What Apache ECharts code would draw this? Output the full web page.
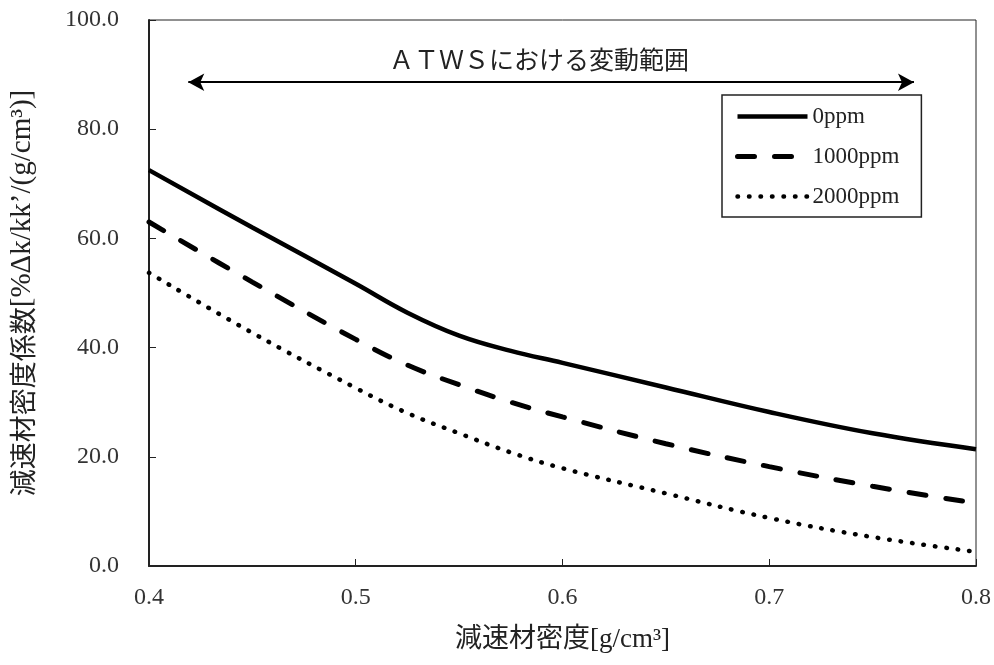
<!DOCTYPE html>
<html>
<head>
<meta charset="utf-8">
<script src="https://cdn.jsdelivr.net/npm/echarts@6/dist/echarts.min.js"></script>
<style>
  html, body { margin: 0; padding: 0; background: #fff; }
  #chart { width: 994px; height: 665px; }
</style>
</head>
<body>
<div id="chart"></div>
<script>
// Moderator density (g/cm3) sample points
const density = [0.40, 0.45, 0.50, 0.525, 0.55, 0.575, 0.60, 0.65, 0.70, 0.75, 0.80];

// Moderator density coefficient [%Δk/kk'/(g/cm3)] for each boron concentration
const coef0ppm    = [72.5, 62.0, 51.7, 46.4, 42.2, 39.4, 37.2, 32.7, 28.2, 24.3, 21.4];
const coef1000ppm = [63.0, 52.0, 41.5, 36.8, 33.2, 30.0, 27.3, 22.4, 18.2, 14.6, 11.5];
const coef2000ppm = [53.7, 42.7, 32.6, 28.0, 24.3, 20.8, 17.9, 13.3,  8.8,  5.3,  2.6];

const seriesNames = ['0ppm', '1000ppm', '2000ppm'];

// Range of the ATWS band (density) and the height of its arrow
const atwsRange = [0.419, 0.770];
const atwsArrowY = 88.6;

const serif = '"Liberation Serif", "DejaVu Serif", serif';
const cjk = '"Noto Sans CJK JP", sans-serif';
const mixed = '"Liberation Serif", "Noto Sans CJK JP", serif';

const pairs = (xs, ys) => xs.map((x, i) => [x, ys[i]]);

// Line styles shared by each curve and its legend sample
const styles = [
  { color: '#000', width: 4.5, type: 'solid' },
  { color: '#000', width: 5, type: [17, 20], cap: 'round' },
  { color: '#000', width: 4.5, type: [0.5, 11], cap: 'round' }
];

const chart = echarts.init(document.getElementById('chart'), null, { renderer: 'canvas' });

chart.setOption({
  animation: false,
  backgroundColor: '#ffffff',
  title: {
    text: 'ＡＴＷＳにおける変動範囲',
    left: 384,
    top: 42,
    textStyle: { fontFamily: cjk, fontWeight: 'normal', fontSize: 25, color: '#222' }
  },
  grid: {
    left: 148, right: 17, top: 20, bottom: 99,
    show: true, borderColor: '#222', borderWidth: 1, backgroundColor: 'transparent'
  },
  legend: {
    orient: 'vertical',
    left: 722, top: 95,
    padding: [10, 22, 9, 13],
    itemWidth: 70, itemHeight: 20, itemGap: 17,
    itemTextGap: 7,
    borderColor: '#222', borderWidth: 1.5,
    borderRadius: 0,
    backgroundColor: '#fff',
    itemStyle: { opacity: 0, borderWidth: 0 },
    textStyle: { fontFamily: serif, fontSize: 23, color: '#222' },
    data: seriesNames.map((name, i) => ({ name, lineStyle: styles[i] }))
  },
  xAxis: {
    type: 'value',
    min: 0.4, max: 0.8, interval: 0.1,
    name: '減速材密度[g/cm³]',
    nameLocation: 'middle',
    nameGap: 60,
    nameTextStyle: { fontFamily: mixed, fontSize: 27, color: '#222' },
    axisLine: { show: true, lineStyle: { color: '#222', width: 2 } },
    axisTick: { show: true, inside: true, length: 7, lineStyle: { color: '#222', width: 1 } },
    axisLabel: {
      margin: 20, fontFamily: serif, fontSize: 24, color: '#333',
      formatter: v => v.toFixed(1)
    },
    splitLine: { show: false }
  },
  yAxis: {
    type: 'value',
    min: 0, max: 100, interval: 20,
    name: '{c|減速材密度係数}{l|[%Δk/kk’/(g/cm³)]}',
    nameLocation: 'middle',
    nameRotate: 90,
    nameGap: 112,
    nameTextStyle: {
      color: '#222',
      rich: {
        c: { fontFamily: cjk, fontSize: 27, color: '#222' },
        l: { fontFamily: serif, fontSize: 29, color: '#222' }
      }
    },
    axisLine: { show: true, lineStyle: { color: '#222', width: 2 } },
    axisTick: { show: true, inside: true, length: 7, lineStyle: { color: '#222', width: 1 } },
    axisLabel: {
      margin: 30, fontFamily: serif, fontSize: 24, color: '#333',
      formatter: v => v.toFixed(1)
    },
    splitLine: { show: false }
  },
  series: [
    {
      name: seriesNames[0],
      type: 'line',
      data: pairs(density, coef0ppm),
      smooth: 0.4,
      symbol: 'none',
      color: '#000',
      lineStyle: styles[0],
      markLine: {
        silent: true,
        symbol: ['arrow', 'arrow'],
        symbolSize: [13, 16],
        label: { show: false },
        lineStyle: { color: '#000', width: 2, type: 'solid' },
        data: [[
          { coord: [atwsRange[0], atwsArrowY] },
          { coord: [atwsRange[1], atwsArrowY] }
        ]]
      }
    },
    {
      name: seriesNames[1],
      type: 'line',
      data: pairs(density, coef1000ppm),
      smooth: 0.4,
      symbol: 'none',
      color: '#000',
      lineStyle: styles[1]
    },
    {
      name: seriesNames[2],
      type: 'line',
      data: pairs(density, coef2000ppm),
      smooth: 0.4,
      symbol: 'none',
      color: '#000',
      lineStyle: styles[2]
    }
  ]
});
</script>
</body>
</html>
